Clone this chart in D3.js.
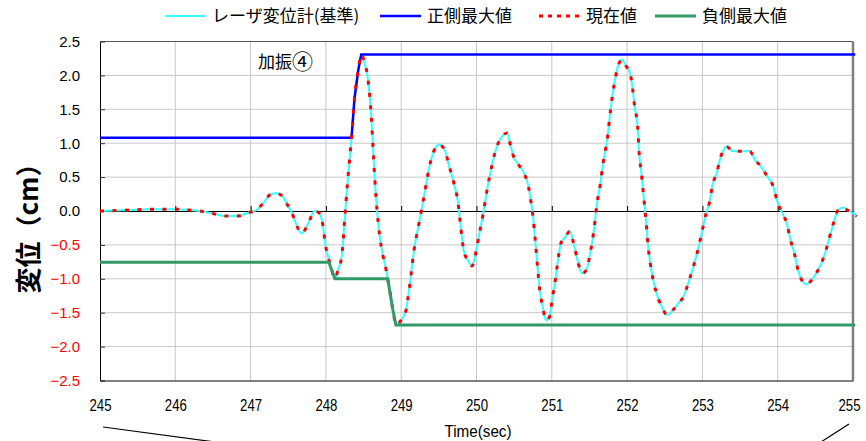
<!DOCTYPE html>
<html>
<head>
<meta charset="utf-8">
<script src="https://cdn.jsdelivr.net/npm/d3@7/dist/d3.min.js"></script>
<style>
  html, body { margin: 0; padding: 0; background: #fff; }
  svg { display: block; }
</style>
</head>
<body>
<svg id="chart" width="866" height="441"></svg>
<script>
// Time axis (sec) and displacement (cm) of the laser displacement gauge
const times = [
  245.00, 245.30, 245.67, 246.03, 246.18, 246.32, 246.51, 246.66, 246.82, 246.97,
  247.08, 247.17, 247.26, 247.34, 247.41, 247.50, 247.55, 247.59, 247.68, 247.77,
  247.85, 247.90, 247.95, 248.00, 248.05, 248.08, 248.12, 248.16, 248.21, 248.25,
  248.29, 248.34, 248.38, 248.43, 248.47, 248.51, 248.56, 248.60, 248.62, 248.65,
  248.68, 248.71, 248.76, 248.80, 248.84, 248.89, 248.93, 249.00, 249.06, 249.11,
  249.17, 249.24, 249.31, 249.37, 249.44, 249.50, 249.57, 249.64, 249.70, 249.75,
  249.79, 249.83, 249.88, 249.94, 249.99, 250.03, 250.09, 250.14, 250.21, 250.27,
  250.34, 250.41, 250.45, 250.50, 250.56, 250.63, 250.69, 250.72, 250.75, 250.78,
  250.81, 250.84, 250.88, 250.92, 250.97, 251.01, 251.04, 251.07, 251.12, 251.18,
  251.24, 251.29, 251.34, 251.40, 251.46, 251.51, 251.54, 251.57, 251.60, 251.64,
  251.68, 251.74, 251.78, 251.83, 251.87, 251.93, 251.99, 252.04, 252.07, 252.10,
  252.14, 252.16, 252.19, 252.22, 252.25, 252.28, 252.33, 252.39, 252.46, 252.53,
  252.61, 252.68, 252.75, 252.81, 252.88, 252.93, 252.99, 253.05, 253.09, 253.14,
  253.19, 253.23, 253.28, 253.32, 253.41, 253.50, 253.63, 253.70, 253.76, 253.85,
  253.94, 253.99, 254.05, 254.12, 254.17, 254.22, 254.27, 254.33, 254.38, 254.45,
  254.51, 254.58, 254.64, 254.69, 254.74, 254.80, 254.87, 254.93, 255.00, 255.05
];
const laserDisp = [
  0.00, 0.01, 0.025, 0.025, 0.015, 0.00, -0.04, -0.075, -0.075, -0.025,
  0.015, 0.12, 0.24, 0.26, 0.23, 0.07, -0.03, -0.15, -0.33, -0.17,
  0.00, -0.02, -0.15, -0.54, -0.76, -0.88, -1.00, -0.87, -0.67, -0.11,
  0.46, 1.07, 1.66, 2.08, 2.31, 2.20, 1.93, 1.44, 1.05, 0.46,
  0.00, -0.33, -0.67, -0.87, -1.12, -1.46, -1.68, -1.61, -1.48, -1.12,
  -0.58, -0.16, 0.26, 0.63, 0.90, 0.98, 0.92, 0.65, 0.41, 0.16,
  -0.23, -0.58, -0.72, -0.81, -0.62, -0.38, -0.03, 0.31, 0.70, 0.95,
  1.10, 1.15, 0.97, 0.78, 0.68, 0.56, 0.36, 0.16, -0.08, -0.43,
  -0.82, -1.17, -1.41, -1.61, -1.56, -1.26, -1.07, -0.82, -0.48, -0.38,
  -0.30, -0.48, -0.72, -0.92, -0.87, -0.62, -0.43, -0.18, 0.11, 0.36,
  0.70, 1.09, 1.49, 1.88, 2.10, 2.23, 2.13, 2.03, 1.83, 1.54,
  1.24, 0.85, 0.56, 0.21, -0.13, -0.53, -0.92, -1.21, -1.41, -1.53,
  -1.46, -1.36, -1.26, -1.07, -0.82, -0.62, -0.33, -0.03, 0.11, 0.41,
  0.56, 0.75, 0.90, 0.95, 0.88, 0.88, 0.88, 0.75, 0.68, 0.53,
  0.36, 0.16, -0.01, -0.18, -0.43, -0.62, -0.87, -1.04, -1.08, -1.02,
  -0.92, -0.77, -0.58, -0.38, -0.18, 0.01, 0.05, 0.01, -0.03, -0.08
];
// present value trace (same samples as the gauge)
const currentVal = laserDisp.slice();

// positive-side maximum (held peak)
const posMaxTimes  = [245.00, 248.34, 248.38, 248.43, 248.47, 255.03];
const posMaxValues = [1.08, 1.08, 1.66, 2.08, 2.31, 2.31];
// negative-side maximum (held trough)
const negMaxTimes  = [245.00, 248.04, 248.08, 248.12, 248.82, 248.89, 248.93, 255.03];
const negMaxValues = [-0.757, -0.757, -0.88, -1.00, -1.00, -1.46, -1.68, -1.68];

const xTicks = [245, 246, 247, 248, 249, 250, 251, 252, 253, 254, 255];
const yTicks = [-2.5, -2.0, -1.5, -1.0, -0.5, 0.0, 0.5, 1.0, 1.5, 2.0, 2.5];

const legendItems = [
  { label: "レーザ変位計(基準)", color: "#33ffff", width: 2,   dash: null,  x: 165 },
  { label: "正側最大値",         color: "#0000ff", width: 2.5, dash: null,  x: 380 },
  { label: "現在値",             color: "#ff0000", width: 3,   dash: "4,5", x: 539 },
  { label: "負側最大値",         color: "#339966", width: 3,   dash: null,  x: 655 }
];

const svg = d3.select("#chart");
const L = 100, R = 853, T = 41.5, B = 380.5;
const x = d3.scaleLinear().domain([245, 255]).range([L, R]);
const y = d3.scaleLinear().domain([-2.5, 2.5]).range([B, T]);

const cjk = "'Noto Sans CJK JP', 'Noto Sans', sans-serif";
const latin = "'Liberation Sans', Arial, sans-serif";

// grid
const grid = svg.append("g");
grid.selectAll("line.v").data(xTicks.slice(1, -1)).join("line")
  .attr("x1", d => x(d)).attr("x2", d => x(d)).attr("y1", T).attr("y2", B)
  .attr("stroke", "#c8c8c8").attr("stroke-width", 1);
grid.selectAll("line.h").data(yTicks.filter(d => d !== 0 && Math.abs(d) < 2.5)).join("line")
  .attr("x1", L).attr("x2", R).attr("y1", d => y(d)).attr("y2", d => y(d))
  .attr("stroke", "#c8c8c8").attr("stroke-width", 1);

// frame
svg.append("line").attr("x1", L).attr("x2", R).attr("y1", T).attr("y2", T)
  .attr("stroke", "#555").attr("stroke-width", 1);
svg.append("line").attr("x1", R).attr("x2", R).attr("y1", T).attr("y2", B)
  .attr("stroke", "#808080").attr("stroke-width", 2.5);

// y axis (ticks point inward)
const yAxis = svg.append("g").attr("transform", `translate(${L},0)`)
  .call(d3.axisLeft(y).tickValues(yTicks).tickSizeInner(-5).tickSizeOuter(0)
        .tickPadding(20).tickFormat(d3.format(".1f")));
yAxis.select(".domain").attr("stroke", "#000");
yAxis.selectAll(".tick line").attr("stroke", "#333");
yAxis.selectAll(".tick text")
  .attr("font-family", latin).attr("font-size", 15)
  .attr("fill", d => d < 0 ? "#ff0000" : "#000");

// bottom labels (condensed)
const xAxis = svg.append("g").attr("transform", `translate(0,${B})`)
  .call(d3.axisBottom(x).tickValues(xTicks).tickSize(0).tickPadding(19).tickFormat(d3.format("d")));
xAxis.select(".domain").attr("stroke", "#000");
xAxis.selectAll(".tick text").attr("font-family", latin).attr("font-size", 16)
  .attr("fill", "#000").attr("textLength", 22).attr("lengthAdjust", "spacingAndGlyphs")
  .attr("dx", d => d === 255 ? -4 : 0);

// zero axis with short upward ticks
const zAxis = svg.append("g").attr("transform", `translate(0,${y(0)})`)
  .call(d3.axisTop(x).tickValues(xTicks.slice(1, -1)).tickSizeInner(5).tickSizeOuter(0).tickFormat(""));
zAxis.select(".domain").attr("stroke", "#000");
zAxis.selectAll(".tick line").attr("stroke", "#000");

// series
const line = d3.line().x(d => x(d[0])).y(d => y(d[1])).curve(d3.curveMonotoneX);
const step = d3.line().x(d => x(d[0])).y(d => y(d[1]));

svg.append("path").datum(d3.zip(times, laserDisp)).attr("d", line)
  .attr("fill", "none").attr("stroke", "#33ffff").attr("stroke-width", 2);
svg.append("path").datum(d3.zip(posMaxTimes, posMaxValues)).attr("d", step)
  .attr("fill", "none").attr("stroke", "#0000ff").attr("stroke-width", 2.5);
svg.append("path").datum(d3.zip(times, currentVal)).attr("d", line)
  .attr("fill", "none").attr("stroke", "#ff0000").attr("stroke-width", 3)
  .attr("stroke-dasharray", "4,8.5");
svg.append("path").datum(d3.zip(negMaxTimes, negMaxValues)).attr("d", step)
  .attr("fill", "none").attr("stroke", "#339966").attr("stroke-width", 3);

// annotation
const ann = svg.append("text").attr("x", 258).attr("y", 68)
  .attr("font-family", cjk).attr("font-size", 17).attr("fill", "#000");
ann.append("tspan").text("加振");
ann.append("tspan").attr("font-size", 21).attr("dy", 1).text("④");

// legend
const lg = svg.append("g");
legendItems.forEach(it => {
  lg.append("line").attr("x1", it.x).attr("x2", it.x + 41).attr("y1", 16).attr("y2", 16)
    .attr("stroke", it.color).attr("stroke-width", it.width)
    .attr("stroke-dasharray", it.dash);
  lg.append("text").attr("x", it.x + 47).attr("y", 16).attr("dy", "0.36em")
    .text(it.label).attr("font-family", cjk).attr("font-size", 17).attr("fill", "#000");
});

// axis titles
svg.append("text").attr("transform", "translate(26,222) rotate(-90)")
  .attr("text-anchor", "middle").attr("dominant-baseline", "central")
  .attr("font-family", cjk).attr("font-size", 26).attr("font-weight", 700)
  .text("変位（cm）");
svg.append("text").attr("x", 478).attr("y", 431).attr("dy", "0.36em")
  .attr("text-anchor", "middle").attr("font-family", latin).attr("font-size", 16)
  .attr("textLength", 67).attr("lengthAdjust", "spacingAndGlyphs")
  .text("Time(sec)");

// leader lines at the bottom edge
svg.append("line").attr("x1", 103).attr("y1", 427).attr("x2", 215).attr("y2", 442)
  .attr("stroke", "#000").attr("stroke-width", 1.2);
svg.append("line").attr("x1", 849).attr("y1", 424).attr("x2", 821).attr("y2", 442)
  .attr("stroke", "#000").attr("stroke-width", 1.2);
</script>
</body>
</html>
